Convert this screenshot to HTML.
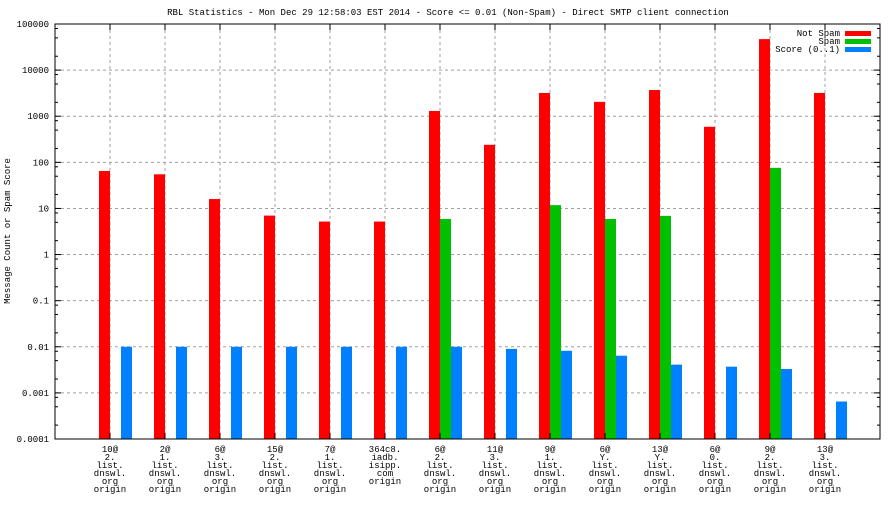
<!DOCTYPE html>
<html><head><meta charset="utf-8"><style>
html,body{margin:0;padding:0;background:#fff}
svg text{font-family:"Liberation Mono","DejaVu Sans Mono",monospace;font-size:9px;fill:#000}
</style></head><body>
<svg id="chart" width="896" height="504" xmlns="http://www.w3.org/2000/svg">
<text x="448" y="15" text-anchor="middle">RBL Statistics - Mon Dec 29 12:58:03 EST 2014 - Score &lt;= 0.01 (Non-Spam) - Direct SMTP client connection</text>
<text transform="translate(10,231) rotate(-90)" text-anchor="middle">Message Count or Spam Score</text>
<g id="grid"></g><g id="bars"></g><g id="axes"></g><g id="labels"></g>
<g>
<text x="840" y="36" text-anchor="end">Not Spam</text><rect x="845" y="31" width="26" height="5" fill="#ff0000"/>
<text x="840" y="44" text-anchor="end">Spam</text><rect x="845" y="39" width="26" height="5" fill="#00c000"/>
<text x="840" y="52" text-anchor="end">Score (0..1)</text><rect x="845" y="47" width="26" height="5" fill="#0080ff"/>
</g>
</svg>
<script>
const categories=[["10@","2.","list.","dnswl.","org","origin"],["2@","1.","list.","dnswl.","org","origin"],["6@","3.","list.","dnswl.","org","origin"],["15@","2.","list.","dnswl.","org","origin"],["7@","1.","list.","dnswl.","org","origin"],["364c8.","iadb.","isipp.","com","origin"],["6@","2.","list.","dnswl.","org","origin"],["11@","3.","list.","dnswl.","org","origin"],["9@","1.","list.","dnswl.","org","origin"],["6@","Y.","list.","dnswl.","org","origin"],["13@","Y.","list.","dnswl.","org","origin"],["6@","0.","list.","dnswl.","org","origin"],["9@","2.","list.","dnswl.","org","origin"],["13@","3.","list.","dnswl.","org","origin"]];
const notSpam=[65,55,16,7,5.2,5.2,1300,240,3200,2050,3700,590,47000,3200];
const spam=[0,0,0,0,0,0,5.9,0,11.8,5.9,6.9,0,76,0];
const score=[0.01,0.01,0.01,0.01,0.01,0.01,0.01,0.009,0.0082,0.0064,0.0041,0.0037,0.0033,0.00065];
const yTicks=["0.0001","0.001","0.01","0.1","1","10","100","1000","10000","100000"];
const NS="http://www.w3.org/2000/svg";
const L=55,R=880,T=24,B=439;
function y(v){return B-(Math.log10(v)+4)/9*(B-T);}
function x(i){return L+(i+1)*(R-L)/15;}
function mk(tag,attrs,parent){const e=document.createElementNS(NS,tag);for(const k in attrs)e.setAttribute(k,attrs[k]);document.getElementById(parent).appendChild(e);return e;}
yTicks.forEach((t,j)=>{const v=parseFloat(t);const yy=y(v);
 if(j>0&&j<yTicks.length-1){const g=mk('line',{x1:L,x2:R,y1:yy,y2:yy,stroke:'#a0a0a0','stroke-dasharray':'3,3'},'grid');
 
 }
 const tx=mk('text',{x:49,y:yy+3,'text-anchor':'end'},'labels');tx.textContent=t;
 
 
 [L,R].forEach(ax=>{const d=ax===L?1:-1;mk('line',{x1:ax,x2:ax+d*6,y1:yy,y2:yy,stroke:'#000'},'axes');
  if(j<yTicks.length-1)[2,5,8].forEach(m=>{const ym=y(v*m);mk('line',{x1:ax,x2:ax+d*3,y1:ym,y2:ym,stroke:'#000'},'axes');});});
});
categories.forEach((c,i)=>{const cx=x(i);
 const g=mk('line',{x1:cx,x2:cx,y1:T,y2:B,stroke:'#a0a0a0','stroke-dasharray':'3,3'},'grid');
 
 
 mk('line',{x1:cx,x2:cx,y1:T,y2:T+6,stroke:'#000'},'axes');mk('line',{x1:cx,x2:cx,y1:B,y2:B-6,stroke:'#000'},'axes');
 const t=mk('text',{x:cx,'text-anchor':'middle'},'labels');
 
 
 c.forEach((s,k)=>{const ts=document.createElementNS(NS,'tspan');ts.setAttribute('x',cx);ts.setAttribute('y',452+k*8);ts.textContent=s;t.appendChild(ts);});
 [[notSpam,'#ff0000',-11,'bar-not-spam'],[spam,'#00c000',0,'bar-spam'],[score,'#0080ff',11,'bar-score']].forEach(([arr,col,off,nm])=>{
  const v=arr[i];if(!(v>0))return;const yy=y(v);
  const r=mk('rect',{x:cx+off,y:yy,width:11,height:B-yy,fill:col},'bars');
  
  });
});
const fr=mk('rect',{x:L,y:T,width:R-L,height:B-T,fill:'none',stroke:'#000','stroke-width':1},'axes');


</script>
</body></html>
